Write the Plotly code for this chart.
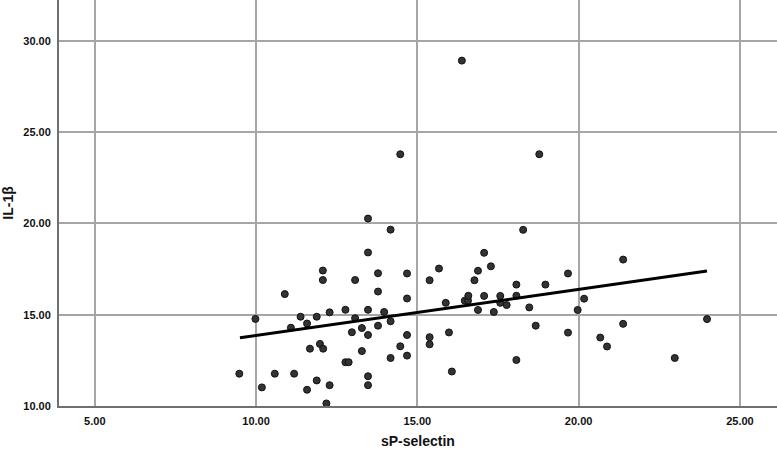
import plotly.graph_objects as go

# sP-selectin (x) and IL-1beta (y)
sp_selectin = [9.48, 9.98, 10.18, 10.58, 10.89, 11.08, 11.18, 11.38, 11.58, 11.58,
               11.67, 11.88, 11.88, 11.98, 12.07, 12.07, 12.08, 12.18, 12.28, 12.28,
               12.77, 12.77, 12.87, 12.97, 13.07, 13.07, 13.28, 13.28, 13.47, 13.47,
               13.47, 13.47, 13.47, 13.47, 13.78, 13.78, 13.78, 13.97, 14.17, 14.17,
               14.17, 14.47, 14.47, 14.68, 14.68, 14.68, 14.68, 15.38, 15.38, 15.38,
               15.67, 15.88, 15.98, 16.07, 16.38, 16.47, 16.57, 16.58, 16.77, 16.88,
               16.88, 17.07, 17.07, 17.28, 17.37, 17.57, 17.57, 17.77, 18.07, 18.07,
               18.07, 18.28, 18.47, 18.67, 18.78, 18.97, 19.67, 19.67, 19.97, 20.17,
               20.67, 20.88, 21.38, 21.38, 22.98, 23.98]
il_1b = [11.77, 14.77, 11.02, 11.77, 16.13, 14.29, 11.77, 14.89, 14.52, 10.89,
         13.14, 14.89, 11.40, 13.40, 17.42, 16.90, 13.14, 10.14, 15.13, 11.14,
         15.27, 12.40, 12.40, 14.04, 16.90, 14.81, 14.27, 13.01, 20.27, 18.41,
         15.27, 13.89, 11.63, 11.14, 17.27, 16.27, 14.40, 15.15, 19.66, 14.64,
         12.63, 23.79, 13.27, 17.26, 15.89, 13.89, 12.76, 16.89, 13.77, 13.38,
         17.53, 15.65, 14.03, 11.89, 28.92, 15.77, 15.77, 16.04, 16.89, 17.41,
         15.26, 18.39, 16.03, 17.65, 15.15, 16.03, 15.65, 15.53, 16.65, 16.04,
         12.52, 19.65, 15.40, 14.40, 23.79, 16.65, 17.26, 14.02, 15.26, 15.88,
         13.75, 13.26, 18.02, 14.50, 12.63, 14.76]

# fit line end points as drawn
fit_x = [9.50, 23.98]
fit_y = [13.74, 17.39]

x_ticks = [5, 10, 15, 20, 25]
y_ticks = [10, 15, 20, 25, 30]

fig = go.Figure()

fig.add_trace(go.Scatter(x=sp_selectin, y=il_1b, mode='markers',
                         marker=dict(size=7, color='#333333',
                                     line=dict(color='#111111', width=1))))

fig.add_trace(go.Scatter(x=fit_x, y=fit_y, mode='lines',
                         line=dict(color='black', width=3)))

tick_font = dict(family='Liberation Sans, Arial', size=11, color='#111111', weight='bold')

fig.update_layout(
    width=777, height=452,
    margin=dict(l=59, r=0, t=0, b=46),
    plot_bgcolor='white', paper_bgcolor='white',
    showlegend=False,
    font=dict(family='Liberation Sans, Arial', size=11, color='#111111'),
    xaxis=dict(range=[3.89, 26.15], tickvals=x_ticks,
               ticktext=['%.2f' % v for v in x_ticks], tickfont=tick_font,
               showgrid=True, gridcolor='#a6a6a6', gridwidth=1.5,
               zeroline=False, showline=True, linecolor='#707070', linewidth=2,
               ticks='', ticklabelstandoff=4, automargin=False),
    yaxis=dict(range=[10, 32.24], tickvals=y_ticks,
               ticktext=['%.2f' % v for v in y_ticks], tickfont=tick_font,
               showgrid=True, gridcolor='#a6a6a6', gridwidth=1.5,
               zeroline=False, showline=True, linecolor='#707070', linewidth=2,
               ticks='', ticklabelstandoff=4, automargin=False),
)

# axis titles
fig.add_annotation(text='<b>sP-selectin</b>', xref='paper', yref='paper',
                   x=0.5, y=-0.086, yanchor='middle', showarrow=False,
                   font=dict(size=14, color='#111'))
fig.add_annotation(text='<b>IL-1β</b>', xref='paper', yref='paper',
                   x=-0.0715, y=0.5, xanchor='center', textangle=-90,
                   showarrow=False, font=dict(size=14, color='#111'))

# drop the page's default body margin so the chart sits at the window corner
fig.write_html("out.html", config={'displayModeBar': False},
               post_script="document.body.style.margin='0';")
